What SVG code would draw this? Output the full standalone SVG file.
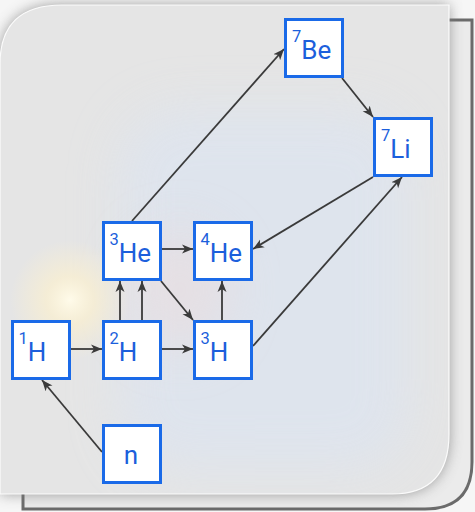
<svg xmlns="http://www.w3.org/2000/svg" width="475" height="512" viewBox="0 0 475 512">
  <defs>
    <style>
      .box rect { fill: #ffffff; stroke: #1a6ae8; stroke-width: 3; }
      .box text { font-family: Roboto, "Liberation Sans", Arial, sans-serif; fill: #1c5fdc; }
      .sup { font-size: 16.5px; }
      .main { font-size: 26px; }
      .links line { stroke: #3a3a3a; stroke-width: 1.8; marker-end: url(#arrow); }
    </style>
    <marker id="arrow" markerUnits="userSpaceOnUse" markerWidth="12" markerHeight="10" refX="11" refY="5" orient="auto">
      <path d="M0,0.5 L11,5 L0,9.5 L3,5 Z" fill="#3a3a3a"/>
    </marker>
    <filter id="soft" x="-20%" y="-20%" width="140%" height="140%">
      <feGaussianBlur stdDeviation="7"/>
    </filter>
    <filter id="haze" x="-50%" y="-50%" width="200%" height="200%">
      <feGaussianBlur stdDeviation="25"/>
    </filter>
    <radialGradient id="glow" cx="0.5" cy="0.5" r="0.5">
      <stop offset="0" stop-color="#fffbea" stop-opacity="1"/>
      <stop offset="0.4" stop-color="#fbf0cf" stop-opacity="0.7"/>
      <stop offset="1" stop-color="#fbf0cf" stop-opacity="0"/>
    </radialGradient>
    <clipPath id="panelClip">
      <path d="M62,5 H449 V434 Q449,494 392,494 H0 V64 Q0,5 62,5 Z"/>
    </clipPath>
  </defs>

  <!-- page background -->
  <rect x="0" y="0" width="475" height="512" fill="#f6f6f6"/>

  <!-- back frame -->
  <path d="M23,20 H472 V462 Q472,509 425,509 H23 Z" fill="#ebebeb" stroke="#6b6b6b" stroke-width="3"/>

  <!-- panel shadow -->
  <path d="M62,5 H449 V434 Q449,494 392,494 H0 V64 Q0,5 62,5 Z" fill="#7a7a7a" opacity="0.75" filter="url(#soft)"/>

  <!-- panel -->
  <path d="M62,5 H449 V434 Q449,494 392,494 H0 V64 Q0,5 62,5 Z" fill="#e5e5e5"/>
  <g clip-path="url(#panelClip)">
    <rect x="120" y="110" width="290" height="360" rx="60" fill="#dce4f1" opacity="0.7" filter="url(#haze)"/>
    <ellipse cx="180" cy="290" rx="50" ry="60" fill="#ecdcdc" opacity="0.55" filter="url(#haze)"/>
    <circle cx="70" cy="300" r="60" fill="url(#glow)"/>
  </g>
  <path d="M62,5 H449 V434 Q449,494 392,494 H0 V64 Q0,5 62,5 Z" fill="none" stroke="#ffffff" stroke-width="1.2" opacity="0.9"/>

  <!-- connectors -->
  <g id="connectors" class="links">
    <line x1="102" y1="452" x2="42" y2="380"/>
    <line x1="71" y1="349" x2="102" y2="349"/>
    <line x1="162" y1="349" x2="193" y2="349"/>
    <line x1="120" y1="320" x2="120" y2="281"/>
    <line x1="142" y1="320" x2="142" y2="281"/>
    <line x1="161" y1="281" x2="193" y2="320"/>
    <line x1="222" y1="320" x2="222" y2="281"/>
    <line x1="162" y1="249" x2="193" y2="249"/>
    <line x1="132" y1="221" x2="284" y2="49"/>
    <line x1="342" y1="78" x2="373" y2="117"/>
    <line x1="373" y1="177" x2="253" y2="249"/>
    <line x1="253" y1="346" x2="402" y2="177"/>
  </g>

  <!-- nodes -->
  <g id="be7" class="box">
    <rect x="285.5" y="19.5" width="57" height="57"/>
    <text x="292"><tspan class="sup" y="41.5">7</tspan><tspan class="main" y="58.5">Be</tspan></text>
  </g>
  <g id="li7" class="box">
    <rect x="374.5" y="118.5" width="57" height="57"/>
    <text x="381"><tspan class="sup" y="140.5">7</tspan><tspan class="main" y="157.5">Li</tspan></text>
  </g>
  <g id="he3" class="box">
    <rect x="103.5" y="222.5" width="57" height="57"/>
    <text x="109.5"><tspan class="sup" y="244.5">3</tspan><tspan class="main" y="261.5">He</tspan></text>
  </g>
  <g id="he4" class="box">
    <rect x="194.5" y="222.5" width="57" height="57"/>
    <text x="200.5"><tspan class="sup" y="244.5">4</tspan><tspan class="main" y="261.5">He</tspan></text>
  </g>
  <g id="h1" class="box">
    <rect x="12.5" y="321.5" width="57" height="57"/>
    <text x="18.5"><tspan class="sup" y="343.5">1</tspan><tspan class="main" y="360.5">H</tspan></text>
  </g>
  <g id="h2" class="box">
    <rect x="103.5" y="321.5" width="57" height="57"/>
    <text x="109.5"><tspan class="sup" y="343.5">2</tspan><tspan class="main" y="360.5">H</tspan></text>
  </g>
  <g id="h3" class="box">
    <rect x="194.5" y="321.5" width="57" height="57"/>
    <text x="200.5"><tspan class="sup" y="343.5">3</tspan><tspan class="main" y="360.5">H</tspan></text>
  </g>
  <g id="neutron" class="box">
    <rect x="103.5" y="425.5" width="57" height="57"/>
    <text x="131" y="463.5" class="main" text-anchor="middle">n</text>
  </g>
</svg>
